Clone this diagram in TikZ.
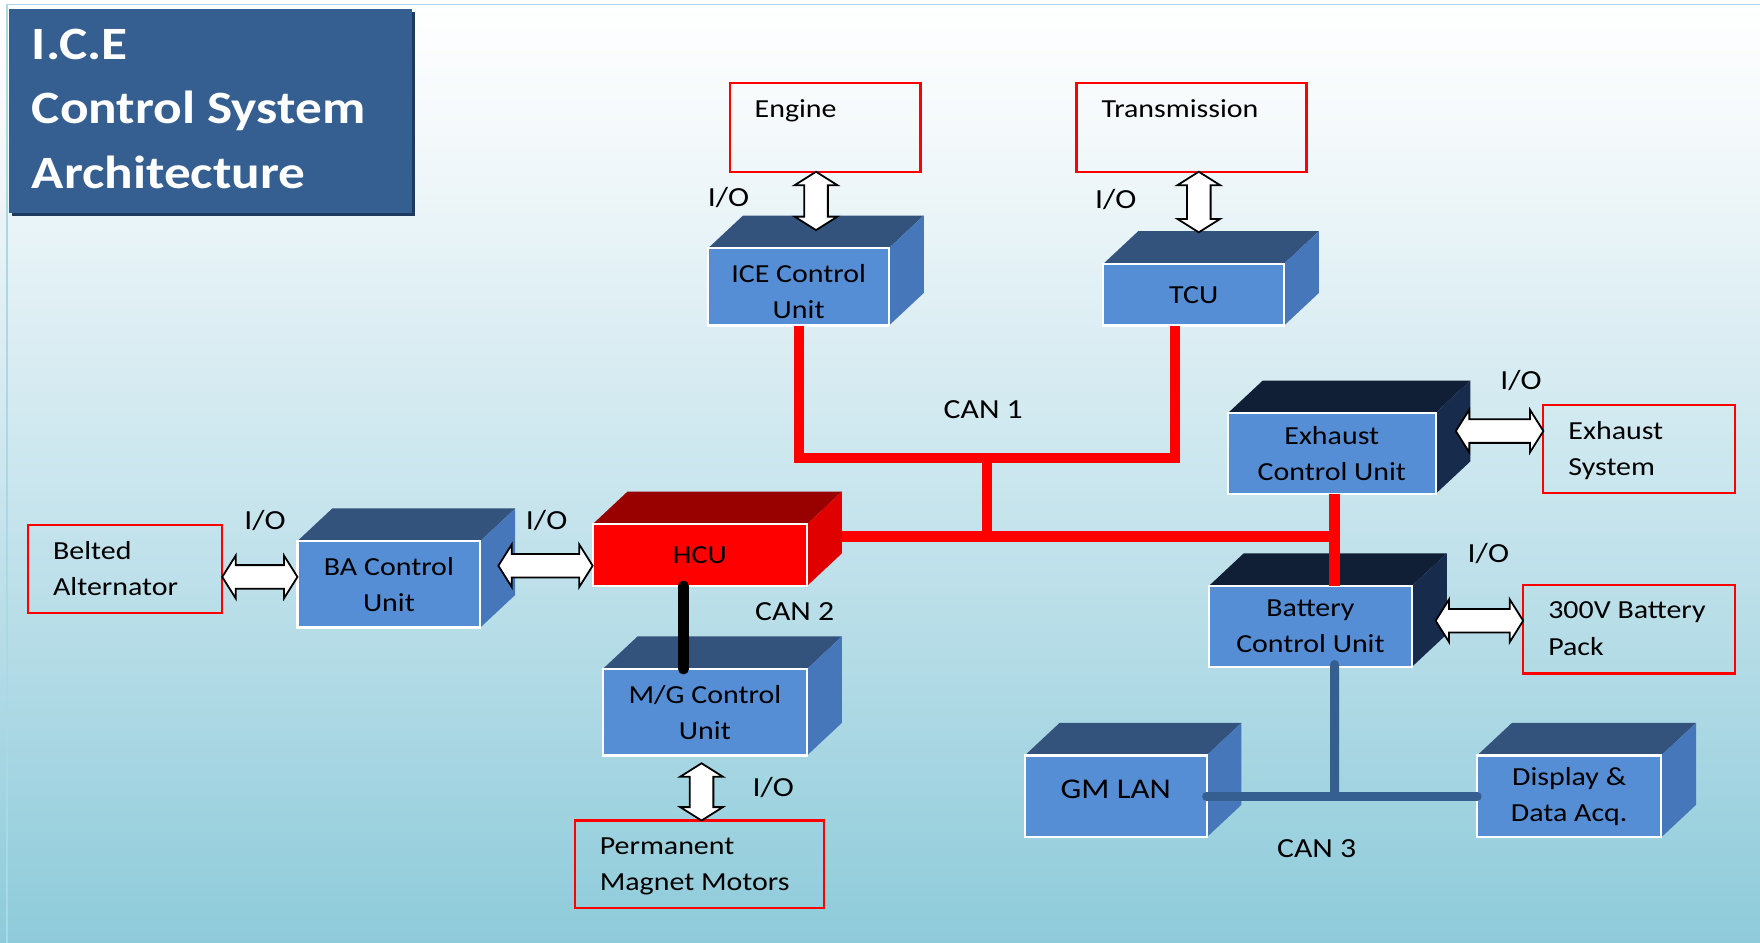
\documentclass[tikz,border=0pt]{standalone}
\usepackage{fontspec}
\setmainfont{Carlito}[FakeStretch=1.15]
\usetikzlibrary{calc}
\definecolor{bgB}{HTML}{8ECBDA}
\definecolor{bgM}{HTML}{C4E3EC}
\definecolor{bgT}{HTML}{F4F9FB}
\definecolor{bframe}{HTML}{A9D8E6}
\definecolor{ttl}{HTML}{365F91}
\definecolor{ttlsh}{HTML}{1F3A5F}
\definecolor{cfront}{HTML}{558ED5}
\definecolor{ctop}{HTML}{33537D}
\definecolor{cside}{HTML}{4677BA}
\definecolor{dtop}{HTML}{101E36}
\definecolor{dside}{HTML}{172B4D}
\definecolor{htop}{HTML}{990000}
\definecolor{hside}{HTML}{E00000}
\definecolor{canblue}{HTML}{365F91}
\pgfdeclareverticalshading{bgshade}{100bp}{color(0bp)=(bgB); color(25bp)=(bgB); color(47bp)=(bgM); color(68bp)=(bgT); color(75bp)=(white); color(100bp)=(white)}
\newcommand\bfnt{\fontsize{13.2}{18.4}\selectfont}
\newcommand\ttlfnt{\fontsize{23.5}{32.6}\selectfont\bfseries}
\newcommand\lblfnt{\fontsize{14}{18}\selectfont}
\def\ahl{6.8pt}\def\ahw{10.8pt}\def\asw{6pt}
\newcommand\cubebox[9]{%
  \fill[#6] (#2-#4/2,#3-#5/2) -- ++(31,-29) -- ++(#4,0) -- (#2+#4/2,#3-#5/2) -- cycle;
  \fill[#7] (#2+#4/2,#3-#5/2) -- ++(31,-29) -- ++(0,#5) -- (#2+#4/2,#3+#5/2) -- cycle;
  \node[frontface, fill=#8, minimum width=#4*0.02cm, minimum height=#5*0.02cm] (#1) at (#2,#3) {#9};
}
\newcommand\iobox[6]{%
  \node[redbox, minimum width=(#4-#2)*0.02cm, minimum height=(#5-#3)*0.02cm,
    label={[boxlabel]north west:{#6}}] (#1) at ({(#2+#4)/2},{(#3+#5)/2}) {};
}
\newcommand\hio[2]{\path[ioarrow] let \p1=(#1), \p2=(#2) in
  (\x1,\y1) -- (\x1+\ahl,\y1+\ahw) -- (\x1+\ahl,\y1+\asw) -- (\x2-\ahl,\y1+\asw) -- (\x2-\ahl,\y1+\ahw)
  -- (\x2,\y1) -- (\x2-\ahl,\y1-\ahw) -- (\x2-\ahl,\y1-\asw) -- (\x1+\ahl,\y1-\asw) -- (\x1+\ahl,\y1-\ahw) -- cycle;}
\newcommand\vio[2]{\path[ioarrow] let \p1=(#1), \p2=(#2) in
  (\x1,\y1) -- (\x1+\ahw,\y1-\ahl) -- (\x1+\asw,\y1-\ahl) -- (\x1+\asw,\y2+\ahl) -- (\x1+\ahw,\y2+\ahl)
  -- (\x1,\y2) -- (\x1-\ahw,\y2+\ahl) -- (\x1-\asw,\y2+\ahl) -- (\x1-\asw,\y1-\ahl) -- (\x1-\ahw,\y1-\ahl) -- cycle;}
\begin{document}
\begin{tikzpicture}[x=0.02cm,y=-0.02cm,
  frontface/.style={draw=white, line width=1.1pt, text=black, align=center, inner sep=1pt, outer sep=0pt, font=\bfnt},
  redbox/.style={draw=red, line width=1.1pt, inner sep=0pt, outer sep=0pt},
  boxlabel/.style={anchor=north west, inner sep=0pt, align=left, font=\bfnt, text=black, shift={(22,7.3)}},
  titlebox/.style={fill=ttl, inner sep=0pt, outer sep=0pt},
  titletext/.style={anchor=north west, inner sep=0pt, align=left, text=white, font=\ttlfnt, shift={(20,4.7)}},
  ioarrow/.style={fill=white, draw=black, line width=0.9pt, line join=miter},
  redbus/.style={draw=red, line width=5.2pt},
  blackbus/.style={draw=black, line width=5.5pt, line cap=round},
  bluebus/.style={draw=canblue, line width=4.6pt, line cap=round},
  iolbl/.style={font=\lblfnt, text=black, inner sep=1pt},
  canlbl/.style={font=\lblfnt, text=black, inner sep=1pt}]
\useasboundingbox (0,0) rectangle (1568,840);
\shade[shading=bgshade] (0,0) rectangle (1568,840);
\draw[bframe, line width=1pt] (6,4) rectangle (1590,860);

% title
\fill[ttlsh] (10.5,10.5) rectangle (369.5,192.5);
\node[titlebox, minimum width=359*0.02cm, minimum height=182*0.02cm,
  label={[titletext]north west:{\strut I.C.E\\\strut Control System\\\strut Architecture}}] (title) at (187.5,99) {};

% 3D units
\cubebox{ice}{711.5}{255.5}{161}{69}{ctop}{cside}{cfront}{\rule{0pt}{14pt}ICE Control\\Unit}
\cubebox{tcu}{1063.5}{262.5}{161}{55}{ctop}{cside}{cfront}{TCU}
\cubebox{exh}{1186.5}{404}{185}{72}{dtop}{dside}{cfront}{Exhaust\\Control Unit}
\cubebox{bat}{1167.5}{558}{181}{72}{dtop}{dside}{cfront}{Battery\\Control Unit}
\cubebox{gm}{994}{709.5}{162}{73}{ctop}{cside}{cfront}{\raisebox{7pt}{\fontsize{14.5}{18}\selectfont GM LAN}}
\cubebox{disp}{1398}{709.5}{164}{73}{ctop}{cside}{cfront}{Display \&\\Data Acq.}
\cubebox{hcu}{623.5}{494.5}{191}{55}{htop}{hside}{red}{HCU}
\cubebox{ba}{346.5}{520.5}{163}{77}{ctop}{cside}{cfront}{BA Control\\Unit}
\cubebox{mg}{628}{634.5}{182}{77}{ctop}{cside}{cfront}{M/G Control\\Unit}

% external components
\iobox{engine}{650}{74}{820}{153}{\strut Engine}
\iobox{trans}{959}{74}{1164}{153}{\strut Transmission}
\iobox{belted}{25}{468}{198}{546}{\strut Belted\\\strut Alternator}
\iobox{exsys}{1375}{361}{1546}{439}{\strut Exhaust\\\strut System}
\iobox{pack}{1357}{521}{1546}{600}{\strut 300V Battery\\\strut Pack}
\iobox{pmm}{512}{731}{734}{809}{\strut Permanent\\\strut Magnet Motors}

% buses
\coordinate (j1) at (879,408);
\coordinate (j2) at (879,478);
\coordinate (j3) at (1189,478);
\coordinate (j4) at (1189,709.5);
\draw[redbus] (ice.south) |- (j1) -| ($(tcu.south)+(-16.5,0)$);
\draw[redbus] (j1) -- (j2);
\draw[redbus] ($(hcu.east)+(31,-16.5)$) -- (j3);
\draw[redbus] ($(exh.south)+(2.5,0)$) -- ($(bat.north)+(21.5,0)$);
\draw[blackbus] ($(hcu.south)+(-14.5,0)$) -- ($(mg.north)+(-19,0)$);
\draw[bluebus] ($(bat.south)+(21.5,-2)$) -- (j4);
\draw[bluebus] (gm.east) -- (disp.west);

% I/O arrows
\vio{$(engine.south)+(-8,0)$}{$(ice.north)+(15.5,-16)$}
\vio{$(trans.south)+(6.5,0)$}{$(tcu.north)+(4.5,-28)$}
\hio{$(belted.east)+(0,7)$}{ba.west}
\hio{$(ba.east)+(16,-16.5)$}{hcu.west}
\vio{$(mg.south)+(-3,7)$}{pmm.north}
\hio{$(exh.east)+(18,-20)$}{exsys.west}
\hio{$(bat.east)+(21,-5)$}{pack.west}

% labels
\node[iolbl] (io1) at (649,176) {I/O};
\node[iolbl] (io2) at (994,178) {I/O};
\node[iolbl] (io3) at (236,464) {I/O};
\node[iolbl] (io4) at (487,464) {I/O};
\node[iolbl] (io5) at (689,702) {I/O};
\node[iolbl] (io6) at (1355,339) {I/O};
\node[iolbl] (io7) at (1326,493) {I/O};
\node[canlbl] (can1) at (876,365) {CAN 1};
\node[canlbl] (can2) at (708,545) {CAN 2};
\node[canlbl] (can3) at (1173,756) {CAN 3};
\end{tikzpicture}
\end{document}
